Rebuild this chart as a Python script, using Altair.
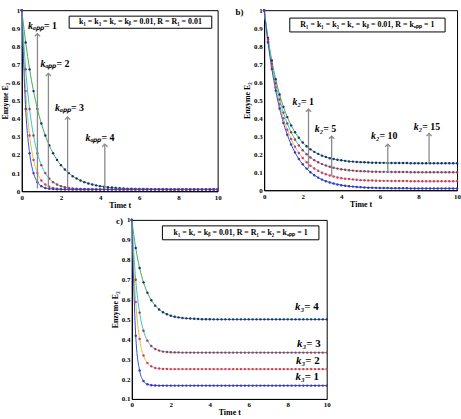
import altair as alt
import pandas as pd

FONT = "Liberation Serif"

TIME = [0.0, 0.2, 0.4, 0.6, 0.8, 1.0, 1.2, 1.4, 1.6, 1.8,
        2.0, 2.2, 2.4, 2.6, 2.8, 3.0, 3.2, 3.4, 3.6, 3.8,
        4.0, 4.2, 4.4, 4.6, 4.8, 5.0, 5.2, 5.4, 5.6, 5.8,
        6.0, 6.2, 6.4, 6.6, 6.8, 7.0, 7.2, 7.4, 7.6, 7.8,
        8.0, 8.2, 8.4, 8.6, 8.8, 9.0, 9.2, 9.4, 9.6, 9.8,
        10.0]

# ---------------- panel a : k_app = 1, 2, 3, 4 ----------------
A_NAMES = ["kapp=1", "kapp=2", "kapp=3", "kapp=4"]
A1 = [1.000, 0.821, 0.673, 0.553, 0.454, 0.374, 0.308, 0.254, 0.210, 0.173,
      0.144, 0.120, 0.100, 0.083, 0.070, 0.059, 0.050, 0.043, 0.037, 0.032,
      0.028, 0.025, 0.022, 0.020, 0.018, 0.017, 0.015, 0.014, 0.014, 0.013,
      0.012, 0.012, 0.012, 0.011, 0.011, 0.011, 0.011, 0.011, 0.010, 0.010,
      0.010, 0.010, 0.010, 0.010, 0.010, 0.010, 0.010, 0.010, 0.010, 0.010,
      0.010]
A2 = [1.000, 0.673, 0.454, 0.308, 0.210, 0.144, 0.100, 0.070, 0.050, 0.037,
      0.028, 0.022, 0.018, 0.015, 0.014, 0.012, 0.012, 0.011, 0.011, 0.010,
      0.010, 0.010, 0.010, 0.010, 0.010, 0.010, 0.010, 0.010, 0.010, 0.010,
      0.010, 0.010, 0.010, 0.010, 0.010, 0.010, 0.010, 0.010, 0.010, 0.010,
      0.010, 0.010, 0.010, 0.010, 0.010, 0.010, 0.010, 0.010, 0.010, 0.010,
      0.010]
A3 = [1.000, 0.553, 0.308, 0.173, 0.100, 0.059, 0.037, 0.025, 0.018, 0.014,
      0.012, 0.011, 0.011, 0.010, 0.010, 0.010, 0.010, 0.010, 0.010, 0.010,
      0.010, 0.010, 0.010, 0.010, 0.010, 0.010, 0.010, 0.010, 0.010, 0.010,
      0.010, 0.010, 0.010, 0.010, 0.010, 0.010, 0.010, 0.010, 0.010, 0.010,
      0.010, 0.010, 0.010, 0.010, 0.010, 0.010, 0.010, 0.010, 0.010, 0.010,
      0.010]
A4 = [1.000, 0.454, 0.210, 0.100, 0.050, 0.028, 0.018, 0.014, 0.012, 0.011,
      0.010, 0.010, 0.010, 0.010, 0.010, 0.010, 0.010, 0.010, 0.010, 0.010,
      0.010, 0.010, 0.010, 0.010, 0.010, 0.010, 0.010, 0.010, 0.010, 0.010,
      0.010, 0.010, 0.010, 0.010, 0.010, 0.010, 0.010, 0.010, 0.010, 0.010,
      0.010, 0.010, 0.010, 0.010, 0.010, 0.010, 0.010, 0.010, 0.010, 0.010,
      0.010]
A_ARROW_X = [0.80, 1.36, 2.34, 4.24]
A_ARROW_Y0 = [0.015, 0.015, 0.015, 0.015]
A_ARROW_Y1 = [0.87, 0.65, 0.41, 0.26]
A_LABEL_X = [1.13, 1.77, 2.51, 4.07]
A_LABEL_Y = [0.91, 0.70, 0.46, 0.295]
A_LABEL_K = ["kₐₚₚ", "kₐₚₚ", "kₐₚₚ", "kₐₚₚ"]
A_LABEL_V = [" = 1", " = 2", " = 3", " = 4"]
A_BOX = "k₁ = k₃ = kₑ = kᵦ = 0.01, R = R₁ = 0.01"

# ---------------- panel b : k2 = 15, 10, 5, 1 ----------------
B_NAMES = ["k2=15", "k2=10", "k2=5", "k2=1"]
B15 = [1.000, 0.846, 0.720, 0.616, 0.532, 0.463, 0.406, 0.360, 0.322, 0.291,
       0.265, 0.244, 0.227, 0.213, 0.202, 0.192, 0.185, 0.178, 0.173, 0.169,
       0.166, 0.163, 0.160, 0.159, 0.157, 0.156, 0.155, 0.154, 0.153, 0.153,
       0.152, 0.152, 0.151, 0.151, 0.151, 0.151, 0.151, 0.151, 0.150, 0.150,
       0.150, 0.150, 0.150, 0.150, 0.150, 0.150, 0.150, 0.150, 0.150, 0.150,
       0.150]
B10 = [1.000, 0.837, 0.703, 0.594, 0.504, 0.431, 0.371, 0.322, 0.282, 0.249,
       0.222, 0.200, 0.182, 0.167, 0.155, 0.145, 0.137, 0.130, 0.125, 0.120,
       0.116, 0.114, 0.111, 0.109, 0.107, 0.106, 0.105, 0.104, 0.103, 0.103,
       0.102, 0.102, 0.102, 0.101, 0.101, 0.101, 0.101, 0.101, 0.100, 0.100,
       0.100, 0.100, 0.100, 0.100, 0.100, 0.100, 0.100, 0.100, 0.100, 0.100,
       0.100]
B5 = [1.000, 0.828, 0.687, 0.571, 0.477, 0.400, 0.336, 0.284, 0.242, 0.207,
      0.179, 0.155, 0.136, 0.121, 0.108, 0.097, 0.089, 0.082, 0.076, 0.071,
      0.067, 0.064, 0.062, 0.060, 0.058, 0.056, 0.055, 0.054, 0.054, 0.053,
      0.052, 0.052, 0.052, 0.051, 0.051, 0.051, 0.051, 0.051, 0.050, 0.050,
      0.050, 0.050, 0.050, 0.050, 0.050, 0.050, 0.050, 0.050, 0.050, 0.050,
      0.050]
B1 = [1.000, 0.821, 0.673, 0.553, 0.454, 0.374, 0.308, 0.254, 0.210, 0.173,
      0.144, 0.120, 0.100, 0.083, 0.070, 0.059, 0.050, 0.043, 0.037, 0.032,
      0.028, 0.025, 0.022, 0.020, 0.018, 0.017, 0.015, 0.014, 0.014, 0.013,
      0.012, 0.012, 0.012, 0.011, 0.011, 0.011, 0.011, 0.011, 0.010, 0.010,
      0.010, 0.010, 0.010, 0.010, 0.010, 0.010, 0.010, 0.010, 0.010, 0.010,
      0.010]
B_ARROW_X = [2.30, 3.50, 6.41, 8.55]
B_ARROW_Y0 = [0.12, 0.08, 0.10, 0.15]
B_ARROW_Y1 = [0.45, 0.30, 0.256, 0.315]
B_LABEL_X = [1.91, 3.06, 5.98, 8.19]
B_LABEL_Y = [0.49, 0.342, 0.30, 0.35]
B_LABEL_K = ["k₂", "k₂", "k₂", "k₂"]
B_LABEL_V = [" = 1", " = 5", " = 10", " = 15"]
B_BOX = "R₁ = k₁ = k₃ = kₑ = kᵦ = 0.01, R = kₐₚₚ = 1"

# ---------------- panel c : k3 = 4, 3, 2, 1 ----------------
C_NAMES = ["k3=4", "k3=3", "k3=2", "k3=1"]
C4 = [1.000, 0.859, 0.758, 0.686, 0.634, 0.596, 0.569, 0.550, 0.536, 0.526,
      0.518, 0.513, 0.510, 0.507, 0.505, 0.504, 0.503, 0.502, 0.501, 0.501,
      0.501, 0.500, 0.500, 0.500, 0.500, 0.500, 0.500, 0.500, 0.500, 0.500,
      0.500, 0.500, 0.500, 0.500, 0.500, 0.500, 0.500, 0.500, 0.500, 0.500,
      0.500, 0.500, 0.500, 0.500, 0.500, 0.500, 0.500, 0.500, 0.500, 0.500,
      0.500]
C3 = [1.000, 0.699, 0.534, 0.443, 0.393, 0.366, 0.351, 0.343, 0.338, 0.336,
      0.335, 0.334, 0.334, 0.333, 0.333, 0.333, 0.333, 0.333, 0.333, 0.333,
      0.333, 0.333, 0.333, 0.333, 0.333, 0.333, 0.333, 0.333, 0.333, 0.333,
      0.333, 0.333, 0.333, 0.333, 0.333, 0.333, 0.333, 0.333, 0.333, 0.333,
      0.333, 0.333, 0.333, 0.333, 0.333, 0.333, 0.333, 0.333, 0.333, 0.333,
      0.333]
C2 = [1.000, 0.587, 0.401, 0.318, 0.281, 0.264, 0.256, 0.253, 0.251, 0.251,
      0.250, 0.250, 0.250, 0.250, 0.250, 0.250, 0.250, 0.250, 0.250, 0.250,
      0.250, 0.250, 0.250, 0.250, 0.250, 0.250, 0.250, 0.250, 0.250, 0.250,
      0.250, 0.250, 0.250, 0.250, 0.250, 0.250, 0.250, 0.250, 0.250, 0.250,
      0.250, 0.250, 0.250, 0.250, 0.250, 0.250, 0.250, 0.250, 0.250, 0.250,
      0.250]
C1 = [1.000, 0.418, 0.243, 0.190, 0.174, 0.169, 0.168, 0.167, 0.167, 0.167,
      0.167, 0.167, 0.167, 0.167, 0.167, 0.167, 0.167, 0.167, 0.167, 0.167,
      0.167, 0.167, 0.167, 0.167, 0.167, 0.167, 0.167, 0.167, 0.167, 0.167,
      0.167, 0.167, 0.167, 0.167, 0.167, 0.167, 0.167, 0.167, 0.167, 0.167,
      0.167, 0.167, 0.167, 0.167, 0.167, 0.167, 0.167, 0.167, 0.167, 0.167,
      0.167]
C_LABEL_X = [8.85, 8.95, 8.90, 8.87]
C_LABEL_Y = [0.56, 0.377, 0.289, 0.208]
C_LABEL_K = ["k₃", "k₃", "k₃", "k₃"]
C_LABEL_V = [" = 4", " = 3", " = 2", " = 1"]
C_BOX = "k₁ = kₑ = kᵦ = 0.01, R = R₁ = k₂ = kₐₚₚ = 1"

X_TICKS = [0, 2, 4, 6, 8, 10]
Y01 = [0, 0.1, 0.2, 0.3, 0.4, 0.5, 0.6, 0.7, 0.8, 0.9, 1]
Y11 = [0.1, 0.2, 0.3, 0.4, 0.5, 0.6, 0.7, 0.8, 0.9, 1]

LINE_COLORS_A = ["#3cb043", "#2ec4d6", "#e3c12a", "#2f4fe0"]
MARK_COLORS_A = ["#1c2a8a", "#b2334f", "#c93a8e", "#3b38b8"]
LINE_COLORS_B = ["#3cb043", "#e3c12a", "#2ec4d6", "#2f4fe0"]
MARK_COLORS_B = ["#1c2a8a", "#c93a8e", "#b2334f", "#2f45c8"]
ARROW_COLOR = "#8a8a8a"


def long_df(names, series):
    rows = []
    for name, vals in zip(names, series):
        for t, v in zip(TIME, vals):
            rows.append({"t": t, "E": v, "s": name})
    return pd.DataFrame(rows)


def panel(names, series, line_colors, mark_colors, ydom, yvals, w, h,
          box_text, box, labels, arrows=None, tag=None, label_size=10,
          right_pad=None):
    df = long_df(names, series)
    xs = alt.Scale(domain=[0, 10], nice=False)
    ys = alt.Scale(domain=ydom, nice=False)
    xax = alt.Axis(values=X_TICKS, format="d", title="Time t",
                   ticks=False, labelPadding=2, titlePadding=1,
                   labelOverlap=False, labelFlush=False)
    yax = alt.Axis(values=yvals, format="~g", title="Enzyme E₂",
                   ticks=False, labelPadding=2, titlePadding=2,
                   labelOverlap=False, labelFlush=False)

    def X(f):
        return alt.X(f, type="quantitative", scale=xs, axis=xax)

    def Y(f):
        return alt.Y(f, type="quantitative", scale=ys, axis=yax)

    base = alt.Chart(df).encode(x=X("t"), y=Y("E"))
    lines = base.mark_line(strokeWidth=1, interpolate="monotone").encode(
        stroke=alt.Stroke("s:N", scale=alt.Scale(domain=names, range=line_colors), legend=None)
    )
    pts = base.mark_point(filled=True, size=6, opacity=1, shape="circle").encode(
        fill=alt.Fill("s:N", scale=alt.Scale(domain=names, range=mark_colors), legend=None)
    )
    layers = [lines, pts]
    if arrows is not None:
        adf = pd.DataFrame({"x": arrows[0], "y0": arrows[1], "y1": arrows[2]})
        rule = alt.Chart(adf).mark_rule(color=ARROW_COLOR, strokeWidth=1.3).encode(
            x=X("x"), y=Y("y0"), y2="y1:Q")
        head = alt.Chart(adf).mark_point(shape="M-1,1L0,0L1,1", filled=False,
                                         color=ARROW_COLOR, size=28,
                                         strokeWidth=1.3, opacity=1).encode(
            x=X("x"), y=Y("y1"))
        layers += [rule, head]
    ldf = pd.DataFrame({"x": labels[0], "y": labels[1], "k": labels[2], "v": labels[3]})
    ktext = alt.Chart(ldf).mark_text(align="right", baseline="middle", font=FONT,
                                     fontSize=label_size, fontWeight="bold",
                                     fontStyle="italic", color="black").encode(
        x=X("x"), y=Y("y"), text="k:N")
    vtext = alt.Chart(ldf).mark_text(align="left", baseline="middle", font=FONT,
                                     fontSize=label_size, fontWeight="bold",
                                     color="black").encode(
        x=X("x"), y=Y("y"), text="v:N")
    layers += [ktext, vtext]
    bdf = pd.DataFrame({"x0": [box[0]], "x1": [box[1]], "y0": [box[2]], "y1": [box[3]],
                        "xm": [(box[0] + box[1]) / 2], "ym": [(box[2] + box[3]) / 2],
                        "txt": [box_text]})
    rect = alt.Chart(bdf).mark_rect(fill="white", stroke="black", strokeWidth=1).encode(
        x=X("x0"), x2="x1:Q", y=Y("y0"), y2="y1:Q")
    btext = alt.Chart(bdf).mark_text(font=FONT, fontSize=8, fontWeight="bold",
                                     color="black", baseline="middle").encode(
        x=X("xm"), y=Y("ym"), text="txt:N")
    layers += [rect, btext]
    one = alt.Data(values=[{}])
    if tag is not None:
        ttext = alt.Chart(one).mark_text(font=FONT, fontSize=9, fontWeight="bold",
                                         color="black", align="left",
                                         baseline="middle").encode(
            x=alt.value(tag[1]), y=alt.value(tag[2]), text=alt.value(tag[0]))
        layers.append(ttext)
    if right_pad is not None:
        spacer = alt.Chart(one).mark_text(fontSize=4, opacity=0, align="right",
                                          color="white").encode(
            x=alt.value(w + right_pad), y=alt.value(h / 2), text=alt.value("."))
        layers.append(spacer)
    return alt.layer(*layers).properties(width=w, height=h)


pa = panel(A_NAMES, [A1, A2, A3, A4], LINE_COLORS_A, MARK_COLORS_A, [0, 1], Y01,
           198, 183, A_BOX, (2.42, 9.7, 0.90, 0.967),
           (A_LABEL_X, A_LABEL_Y, A_LABEL_K, A_LABEL_V),
           arrows=(A_ARROW_X, A_ARROW_Y0, A_ARROW_Y1))
pb = panel(B_NAMES, [B15, B10, B5, B1], LINE_COLORS_B, MARK_COLORS_B, [0, 1], Y01,
           195, 182, B_BOX, (1.33, 9.38, 0.879, 0.956),
           (B_LABEL_X, B_LABEL_Y, B_LABEL_K, B_LABEL_V),
           arrows=(B_ARROW_X, B_ARROW_Y0, B_ARROW_Y1), tag=("b)", -29, 2))
pc = panel(C_NAMES, [C4, C3, C2, C1], LINE_COLORS_A, MARK_COLORS_A, [0.1, 1], Y11,
           197, 181, C_BOX, (1.57, 9.6, 0.90, 0.97),
           (C_LABEL_X, C_LABEL_Y, C_LABEL_K, C_LABEL_V), tag=("c)", -16, 1),
           label_size=11, right_pad=24)

top = alt.hconcat(pa, pb, spacing=13)
chart = alt.vconcat(top, pc, spacing=5, center=True).properties(
    padding={"left": 0, "top": 3, "right": 0, "bottom": 0}
).configure_view(stroke="black", strokeWidth=1).configure_axis(
    grid=False, domainColor="black", domainWidth=1, labelOverlap=False,
    labelFont=FONT, labelFontSize=7, labelFontWeight="bold", labelColor="black",
    titleFont=FONT, titleFontSize=8, titleFontWeight="bold", titleColor="black",
)

chart.save("out.html", embed_options={"renderer": "svg", "actions": False})
